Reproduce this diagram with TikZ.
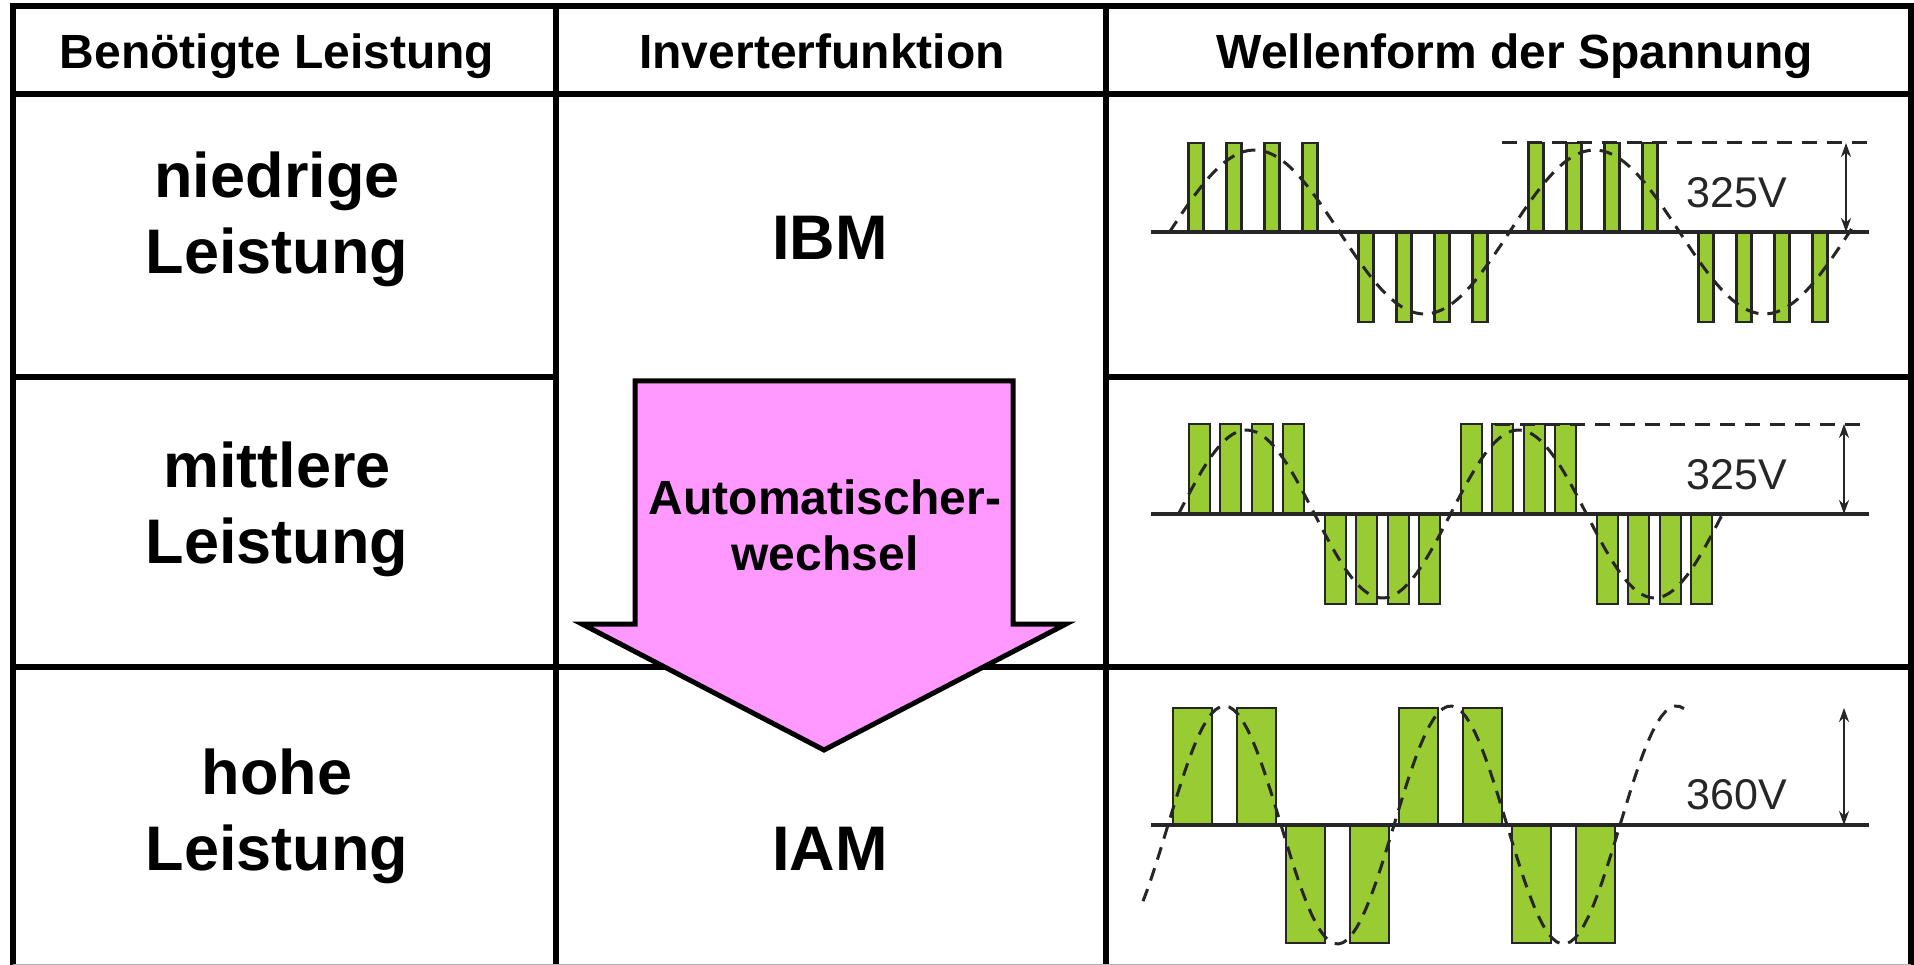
\documentclass[tikz,border=0pt]{standalone}
\usepackage{fontspec}
\setmainfont{Liberation Sans}
\usetikzlibrary{arrows.meta}
\definecolor{barGreen}{RGB}{153,204,51}
\definecolor{arrowPink}{RGB}{255,153,255}
\begin{document}
\begin{tikzpicture}[x=1pt,y=-1pt,
  tableline/.style={line width=6pt, black},
  hdr/.style={font=\bfseries\fontsize{48}{56}\selectfont, anchor=base, inner sep=0pt},
  big/.style={font=\bfseries\fontsize{63}{76}\selectfont, anchor=base, inner sep=0pt},
  arrtxt/.style={font=\bfseries\fontsize{48}{56}\selectfont, anchor=base, inner sep=0pt},
  volt/.style={font=\fontsize{43}{50}\selectfont, anchor=base, inner sep=0pt, text=black!85},
  pulsebar/.style={fill=barGreen, draw=black!85, line width=2.8pt},
  zeroline/.style={line width=3.2pt, black!85},
  sinewave/.style={line width=3pt, dash pattern=on 13pt off 9pt, black!85},
  peakline/.style={line width=3pt, dash pattern=on 15pt off 10pt, black!85},
  dimarrow/.style={line width=2.4pt, black!85, {Stealth[length=14pt,width=10pt]}-{Stealth[length=14pt,width=10pt]}},
  bigarrow/.style={line width=5pt, draw=black, fill=arrowPink, line join=miter},
]
\useasboundingbox (0,0) rectangle (1914,965);
\fill[white] (0,0) rectangle (1914,965);

% table
\draw[tableline, line join=miter] (13,968) -- (13,6) -- (1911,6) -- (1911,968);
\draw[tableline] (13,94) -- (1911,94);
\draw[tableline] (556,6) -- (556,968);
\draw[tableline] (1106,6) -- (1106,968);
\draw[tableline] (13,377) -- (556,377);
\draw[tableline] (1106,377) -- (1911,377);
\draw[tableline] (13,667) -- (1911,667);
\draw[gray!60, line width=1pt] (13,964.5) -- (1911,964.5);

% headers
\node[hdr] (h1) at (277,69) {Benötigte Leistung};
\node[hdr] (h2) at (822,69) {Inverterfunktion};
\node[hdr] (h3) at (1515,69) {Wellenform der Spannung};

% column 1
\node[big] (l1a) at (277,198) {niedrige};
\node[big] (l1b) at (277,274) {Leistung};
\node[big] (l2a) at (277,487) {mittlere};
\node[big] (l2b) at (277,563) {Leistung};
\node[big] (l3a) at (277,794) {hohe};
\node[big] (l3b) at (277,870) {Leistung};

% column 2
\node[big] (ibm) at (830,260) {IBM};
\node[big] (iam) at (830,870) {IAM};
\draw[bigarrow] (635,381) -- (1013,381) -- (1013,624) -- (1066,624) -- (824,750) -- (582,624) -- (635,624) -- cycle;
\node[arrtxt] (auto1) at (825,514) {Automatischer-};
\node[arrtxt] (auto2) at (825,570) {wechsel};

% row 1 waveform
\foreach \m/\t in {1253/143, 1423/322, 1593/143, 1763/322} {
  \foreach \o in {-57,-19,19,57} {
    \draw[pulsebar] ({\m+(\o)-7.5},232) rectangle ({\m+(\o)+7.5},\t);
  }
}
\draw[zeroline] (1151,232) -- (1869,232);
\draw[sinewave] plot[domain=1169.5:1855, samples=140] (\x,{232-82*sin((\x-1169.5)/340*360)});
\draw[peakline] (1502,143) -- (1869,143);
\draw[dimarrow] (1846,143) -- (1846,232);
\node[volt] (v1) at (1737,208) {325V};

% row 2 waveform
\foreach \m/\t in {1246.5/424, 1382.5/604, 1518.5/424, 1654.5/604} {
  \foreach \o in {-47,-16,16,47} {
    \draw[pulsebar] ({\m+(\o)-10.5},514) rectangle ({\m+(\o)+10.5},\t);
  }
}
\draw[zeroline] (1151,514) -- (1869,514);
\draw[sinewave] plot[domain=1178.5:1724, samples=120] (\x,{514-84*sin((\x-1178.5)/272*360)});
\draw[peakline] (1495,424) -- (1869,424);
\draw[dimarrow] (1844,424) -- (1844,514);
\node[volt] (v2) at (1737,489) {325V};

% row 3 waveform
\foreach \m/\t in {1224.5/708, 1337.5/943, 1450.5/708, 1563.5/943} {
  \foreach \o in {-32,32} {
    \draw[pulsebar] ({\m+(\o)-19.5},825) rectangle ({\m+(\o)+19.5},\t);
  }
}
\draw[zeroline] (1151,825) -- (1869,825);
\draw[sinewave] plot[domain=1143:1684, samples=120] (\x,{825-119*sin((\x-1168)/226*360)});
\draw[dimarrow] (1844,708) -- (1844,825);
\node[volt] (v3) at (1737,809) {360V};
\end{tikzpicture}
\end{document}
